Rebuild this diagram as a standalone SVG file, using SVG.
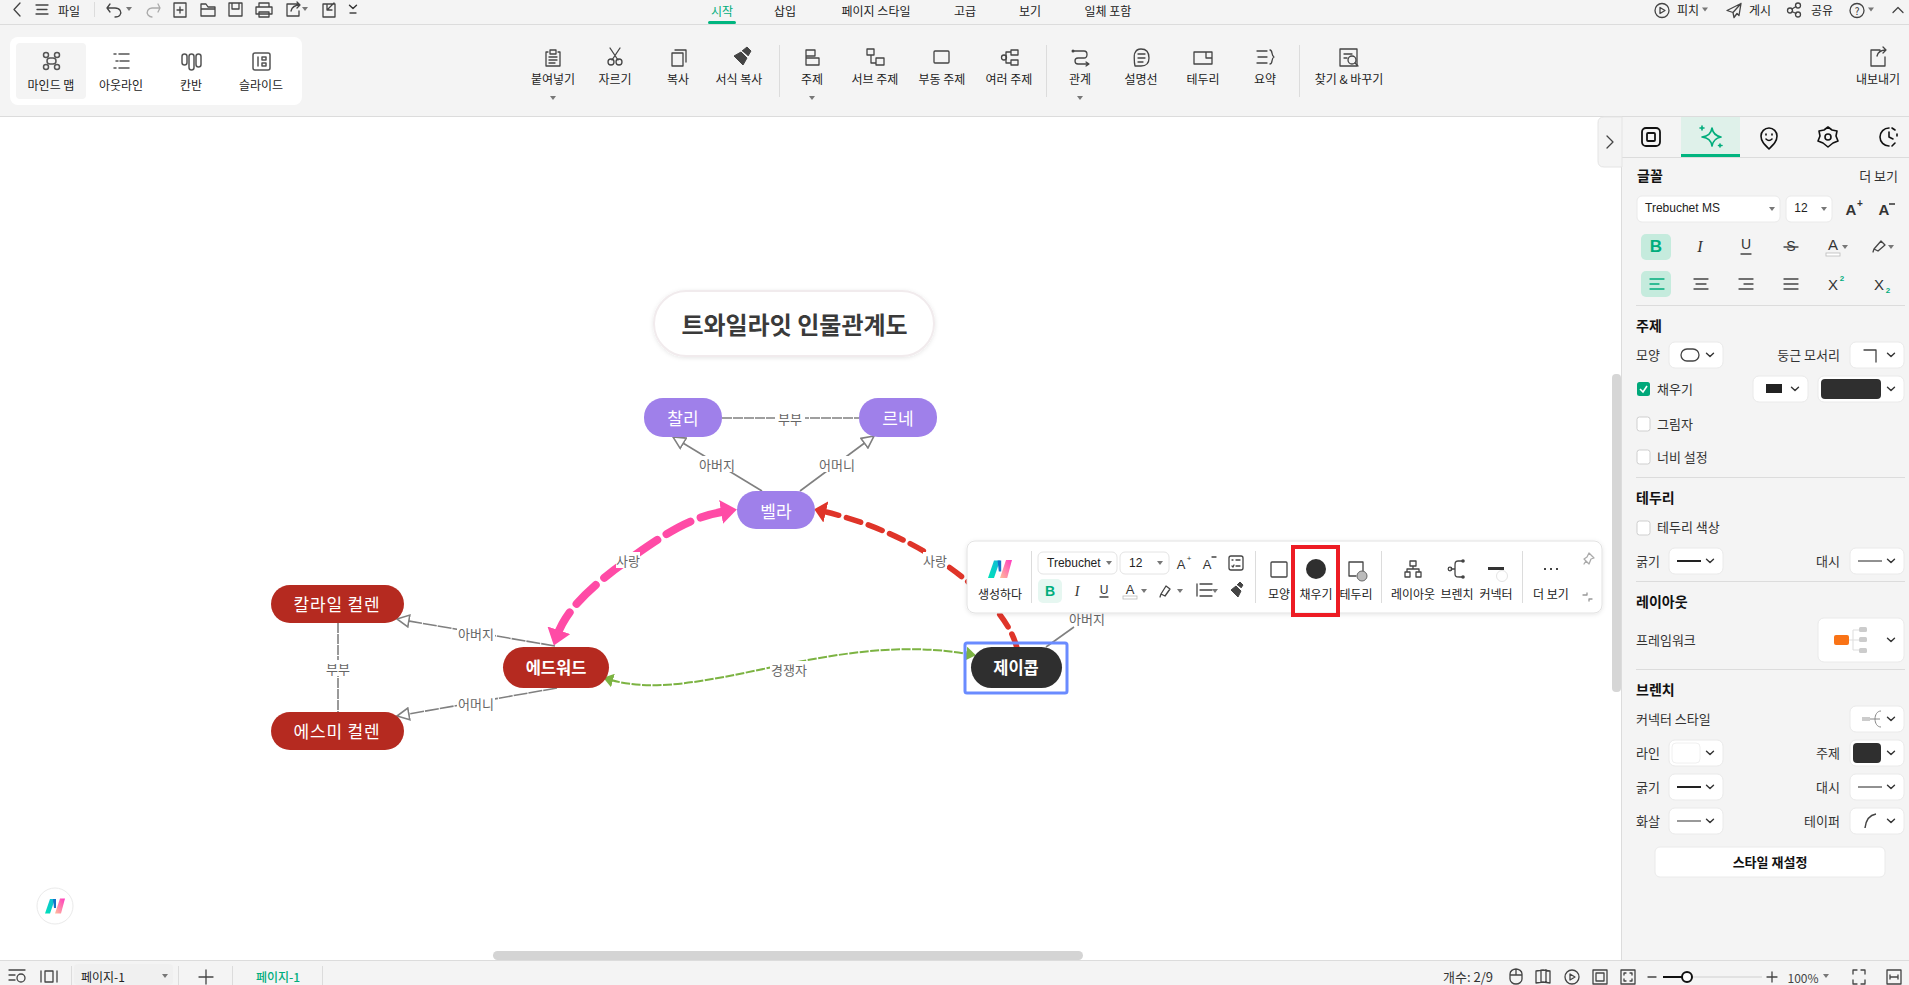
<svg xmlns="http://www.w3.org/2000/svg" width="1909" height="985" viewBox="0 0 1909 985">
<style>
text{font-family:"Noto Sans CJK KR","Liberation Sans",sans-serif;font-size:12px;fill:#333;dominant-baseline:central}
.m{text-anchor:middle}.e{text-anchor:end}
.b{font-weight:700;font-size:14px;fill:#111}
.lat{font-family:"Liberation Sans",sans-serif}
.i{fill:none;stroke:#444;stroke-width:1.3;stroke-linecap:round;stroke-linejoin:round}
.tb{fill:#222;font-size:12px}
.div{stroke:#dcdcdc;stroke-width:1}
.sel{fill:#fff;stroke:#eaeaea;stroke-width:1}
.cb{fill:#fff;stroke:#cfcfcf;stroke-width:1}
.chev{fill:none;stroke:#333;stroke-width:1.4;stroke-linecap:round;stroke-linejoin:round}
.nt{fill:#fff;font-size:17px;text-anchor:middle}
.ns{letter-spacing:.8px}
.nb{font-weight:700;font-size:16.5px}
.lb{fill:#666;font-size:13px;text-anchor:middle}
.g{fill:none;stroke:#808080;stroke-width:1.6}
.pur{fill:#9f80ea}.red{fill:#b52a20}
#sidebar text{transform:translateY(-1px)}
#sidebar text:not(.b):not(.lat){font-size:13px}
</style>
<defs>
<path id="chev" class="chev" d="M-3.5-1.8 0 1.6 3.5-1.8"/>
<path id="tri" fill="#777" d="M-3-2H3L0 2Z"/>
<marker id="hollow" viewBox="0 0 14 14" markerWidth="14" markerHeight="14" refX="13" refY="7" orient="auto" markerUnits="userSpaceOnUse"><path d="M1 1 13 7 1 13Z" fill="#fff" stroke="#808080" stroke-width="1.6"/></marker>
<marker id="pink" viewBox="0 0 16 24" markerWidth="16" markerHeight="24" refX="6" refY="12" orient="auto-start-reverse" markerUnits="userSpaceOnUse"><path d="M0 0 16 12 0 24Z" fill="#ff4ba6"/></marker>
<marker id="redh" viewBox="0 0 12 22" markerWidth="12" markerHeight="22" refX="4" refY="11" orient="auto" markerUnits="userSpaceOnUse"><path d="M0 0 12 11 0 22Z" fill="#df3429"/></marker>
<marker id="green" viewBox="0 0 10 14" markerWidth="10" markerHeight="14" refX="2" refY="7" orient="auto-start-reverse" markerUnits="userSpaceOnUse"><path d="M0 0 10 7 0 14Z" fill="#7cb342"/></marker>
<linearGradient id="gt" x1="0" y1="1" x2="1" y2="0"><stop offset="0" stop-color="#00e2b8"/><stop offset="1" stop-color="#12b8d8"/></linearGradient>
<linearGradient id="gp" x1="0" y1="1" x2="1" y2="0"><stop offset="0" stop-color="#ffc09a"/><stop offset="1" stop-color="#ff38c0"/></linearGradient>
<g id="mlogo"><path d="M-10 7.500-5-7H0L-5 7.500Z" fill="url(#gt)"/><path d="M-2-7H1L1 2-1 2Z" fill="#1470c8"/><path d="M0 7.500 5-7.500H10L6 7.500Z" fill="url(#gp)"/></g>
<filter id="sh" x="-10%" y="-20%" width="120%" height="140%"><feDropShadow dx="0" dy="1" stdDeviation="2" flood-color="#000" flood-opacity=".1"/></filter>
</defs>

<rect width="1909" height="985" fill="#fff"/>

<g id="canvas-connectors">
<path class="g" stroke-dasharray="10 1" d="M722 418H859"/>
<path class="g" marker-end="url(#hollow)" d="M762 491 673 437"/>
<path class="g" marker-end="url(#hollow)" d="M800 491 874 436"/>
<path class="g" stroke-dasharray="10 1" d="M338 623V712"/>
<path class="g" marker-end="url(#hollow)" stroke-dasharray="14 1" d="M555 646 397 619"/>
<path class="g" marker-end="url(#hollow)" stroke-dasharray="14 1" d="M557 688 397 716"/>
<path class="g" d="M1046 647 1074 627"/>
<path fill="none" stroke="#ff4ba6" stroke-width="8" stroke-linecap="round" stroke-dasharray="27 11" marker-start="url(#pink)" marker-end="url(#pink)" d="M557 636C565 612 588 588 628 560S690 517 727 511"/>
<path fill="none" stroke="#df3429" stroke-width="5.500" stroke-linecap="round" stroke-dasharray="15 8" marker-end="url(#redh)" d="M1017 648C1005 600 925 535 822 511"/>
<path fill="none" stroke="#7cb342" stroke-width="2" stroke-dasharray="9 1.500" marker-start="url(#green)" marker-end="url(#green)" d="M611 680C700 705 830 630 968 654"/>
<g id="edge-labels">
<rect x="775" y="410" width="30" height="16" fill="#fff"/><text class="lb" x="790" y="418">부부</text>
<rect x="698" y="456" width="38" height="16" fill="#fff"/><text class="lb" x="717" y="464">아버지</text>
<rect x="818" y="456" width="38" height="16" fill="#fff"/><text class="lb" x="837" y="464">어머니</text>
<rect x="323" y="660" width="30" height="16" fill="#fff"/><text class="lb" x="338" y="668">부부</text>
<rect x="457" y="625" width="38" height="16" fill="#fff"/><text class="lb" x="476" y="633">아버지</text>
<rect x="457" y="695" width="38" height="16" fill="#fff"/><text class="lb" x="476" y="703">어머니</text>
<rect x="616" y="552" width="24" height="16" fill="#fff"/><text class="lb" x="628" y="560">사랑</text>
<rect x="923" y="552" width="24" height="16" fill="#fff"/><text class="lb" x="935" y="560">사랑</text>
<rect x="770" y="661" width="38" height="16" fill="#fff"/><text class="lb" x="789" y="669">경쟁자</text>
<rect x="1068" y="610" width="38" height="16" fill="#fff"/><text class="lb" x="1087" y="618">아버지</text>
</g>
</g>

<g id="node-title"><rect x="654" y="291" width="280" height="65" rx="32.500" fill="#fff" stroke="#f1ebed" stroke-width="2" filter="url(#sh)"/><text class="m" x="794.500" y="323" style="font-size:24px;font-weight:700;fill:#3a3a3a">트와일라잇 인물관계도</text></g>
<g id="node-charlie"><rect class="pur" x="644" y="398" width="78" height="39" rx="19"/><text class="nt" x="683" y="417">찰리</text></g>
<g id="node-renee"><rect class="pur" x="859" y="398" width="78" height="39" rx="19"/><text class="nt" x="898" y="417">르네</text></g>
<g id="node-bella"><rect class="pur" x="737" y="491" width="78" height="38" rx="19"/><text class="nt" x="776" y="510">벨라</text></g>
<g id="node-carlisle"><rect class="red" x="271" y="585" width="133" height="38" rx="19"/><text class="nt ns" x="337" y="603">칼라일 컬렌</text></g>
<g id="node-esme"><rect class="red" x="271" y="712" width="133" height="38" rx="19"/><text class="nt ns" x="337" y="730">에스미 컬렌</text></g>
<g id="node-edward"><rect class="red" x="503" y="647" width="106" height="41" rx="20.500"/><text class="nt nb" x="556" y="667">에드워드</text></g>
<g id="node-jacob"><rect x="971" y="647" width="91" height="41" rx="20.500" fill="#2f2f2f"/><text class="nt nb" x="1016" y="667">제이콥</text></g>
<rect id="selection" x="965" y="643" width="102" height="50" rx="2" fill="none" stroke="#6a8bff" stroke-width="3"/>

<g id="ribbon">
<rect x="0" y="0" width="1909" height="117" fill="#f4f4f4"/>
<path class="div" d="M0 24.500H1909M0 116.500H1909"/>
<g transform="translate(0 -2)">
<path class="i" d="M20 5 14 11.500 20 18M36 7H48M37 11.500H47M36 16H48"/>
<path class="div" d="M94.500 4V19"/>
<path class="i" d="M110 6 107 10H115C120 10 122 14 120 17 119 19 116 19 115 19M110 14 107 10"/><use href="#tri" x="129" y="11"/>
<path class="i" style="stroke:#aaa" d="M158 6 160 10H152C148 10 146 14 148 17 149 18 150 19 152 19M158 14 160 10"/>
<path class="i" d="M174 5H186V19H174ZM177 12H183M180 9V15"/>
<path class="i" d="M201 8V18H215V9H208L206 6H201ZM201 11H215"/>
<path class="i" d="M229 5H242V18H229ZM232 5V11H239V5"/>
<path class="i" d="M259 9V5H269V9M256 9H272V16H256ZM259 14H269V19H259Z"/>
<path class="i" d="M298 6H287V18H299V13M291 13C292 9 295 7 300 7M297 4 300 7 297 10"/><use href="#tri" x="305" y="11"/>
<path class="i" d="M323 6H335V19H323ZM334 5 328 11M327 7V12H332"/><use href="#chev" x="353" y="9"/><path class="i" d="M350 15H356"/>
</g>
<text class="tb m" x="69" y="10">파일</text>
<text class="m" x="722" y="10" style="fill:#00ad7c">시작</text><rect x="708" y="21" width="28" height="3" rx="1.500" fill="#00b57f"/>
<text class="tb m" x="785" y="10">삽입</text><text class="tb m" x="876" y="10">페이지 스타일</text><text class="tb m" x="965" y="10">고급</text><text class="tb m" x="1030" y="10">보기</text><text class="tb m" x="1108" y="10">일체 포함</text>

<g id="modes"><rect x="10" y="37" width="292" height="68" rx="8" fill="#fff"/><rect x="16" y="43" width="70" height="56" rx="4" fill="#f4f4f4"/>
<g class="i" style="stroke:#555;stroke-width:1.500"><circle cx="46" cy="55" r="2.500"/><circle cx="57" cy="55" r="2.500"/><circle cx="46" cy="67" r="2.500"/><circle cx="57" cy="67" r="2.500"/><rect x="47" y="58" width="9" height="6" rx="3"/></g>
<path class="i" style="stroke:#555;stroke-width:1.500" d="M114 54H116M119 54H129M116 61H118M120 61H129M114 68H116M119 68H129"/>
<g class="i" style="stroke:#555;stroke-width:1.500"><rect x="182" y="54" width="5" height="11" rx="2.500"/><rect x="189" y="54" width="5" height="16" rx="2.500"/><rect x="196" y="54" width="5" height="13" rx="2.500"/></g>
<g class="i" style="stroke:#555;stroke-width:1.500"><rect x="253" y="53" width="17" height="17" rx="2"/><path d="M258 57V66M262 57H266V60H262ZM262 63H266V66H262Z"/></g>
<text class="m tb" x="51" y="84">마인드 맵</text><text class="m tb" x="121" y="84">아웃라인</text><text class="m tb" x="191" y="84">칸반</text><text class="m tb" x="261" y="84">슬라이드</text></g>

<g id="ribbon-icons">
<path class="i" transform="translate(4 0)" d="M544 52H542V66H556V52H554M546 50H552V54H546ZM545 57H553M545 60H553M545 63H551"/>
<g transform="translate(10 0)"><path class="i" d="M600 48 608 60M610 48 602 60"/><circle class="i" cx="601" cy="62" r="3"/><circle class="i" cx="609" cy="62" r="3"/></g>
<path class="i" transform="translate(16 0)" d="M656 53H667V66H656ZM659 50H670V62"/>
<path d="M734 56 743 65 747 58 741 52ZM742 51 747 47 751 51 748 56" fill="#444" stroke="#444"/>
<path class="i" transform="translate(26 0)" d="M780 50H789V56H780ZM780 56V65H793V58H780"/>
<path class="i" transform="translate(30 0)" d="M837 49H844V55H837ZM841 55V63H846M846 58H854V65H846Z"/>
<rect class="i" x="934" y="51" width="15" height="12" rx="1"/>
<g transform="translate(44 0)"><path class="i" d="M967 50H974V55H967ZM967 60H974V65H967ZM967 52H962V63H967"/><circle class="i" cx="960" cy="57.500" r="2.500"/></g>
<g transform="translate(50 0)"><path class="i" d="M1024 51H1034C1038 51 1038 58 1034 58H1028C1024 58 1024 64 1028 64H1038M1036 62 1039 64 1036 66"/><circle cx="1023" cy="51" r="1.500" fill="#444"/></g>
<path class="i" transform="translate(54 0)" d="M1087 49C1094 49 1095 54 1095 58 1095 63 1092 66 1087 66H1081C1080 62 1080 53 1081 53 1082 50 1084 49 1087 49ZM1084 54H1091M1084 58H1091M1084 62H1089"/>
<path class="i" d="M1194 52H1212V64H1194ZM1206 52V58H1212"/>
<path class="i" d="M1257 51H1267M1258 57H1267M1257 63H1267M1270 50C1273 50 1271 56 1274 57 1271 58 1273 64 1270 64"/>
<path class="i" d="M1340 49H1357V66H1340ZM1344 54H1352M1344 58H1347"/><circle class="i" cx="1352" cy="60" r="4"/><path class="i" d="M1355 63 1358 66"/>
<path class="i" d="M1880 50H1871V66H1885V57M1877 56C1878 52 1881 50 1886 50M1883 47 1886 50 1883 53"/>
</g>
<path class="div" d="M779.500 45V97M1046.500 45V97M1299.500 45V97"/>
<g id="ribbon-labels"><text class="m tb" x="553" y="78">붙여넣기</text><text class="m tb" x="615" y="78">자르기</text><text class="m tb" x="678" y="78">복사</text><text class="m tb" x="739" y="78">서식 복사</text><text class="m tb" x="812" y="78">주제</text><text class="m tb" x="875" y="78">서브 주제</text><text class="m tb" x="942" y="78">부동 주제</text><text class="m tb" x="1009" y="78">여러 주제</text><text class="m tb" x="1080" y="78">관계</text><text class="m tb" x="1141" y="78">설명선</text><text class="m tb" x="1203" y="78">테두리</text><text class="m tb" x="1265" y="78">요약</text><text class="m tb" x="1349" y="78">찾기 &amp; 바꾸기</text><text class="m tb" x="1878" y="78">내보내기</text></g>
<use href="#tri" x="553" y="98"/><use href="#tri" x="812" y="98"/><use href="#tri" x="1080" y="98"/>

<g id="topright" transform="translate(0 -1.500)">
<circle class="i" cx="1662" cy="12" r="7"/><path class="i" d="M1660 9 1665 12 1660 15Z"/><text class="tb m" x="1688" y="11">피치</text><use href="#tri" x="1705" y="11"/>
<path class="i" d="M1741 5 1727 12 1733 14 1734 19 1737 15 1739 17ZM1741 5 1733 14"/><text class="tb m" x="1760" y="11">게시</text>
<circle class="i" cx="1790" cy="12" r="2.500"/><circle class="i" cx="1798" cy="7" r="2.500"/><circle class="i" cx="1798" cy="16" r="2.500"/><path class="i" d="M1792 10.500 1796 8M1792 13 1796 15"/><text class="tb m" x="1822" y="11">공유</text>
<circle class="i" cx="1857" cy="12" r="7"/><text class="m" x="1857" y="12" style="font-size:10px">?</text><use href="#tri" x="1871" y="11"/>
<path class="i" d="M1893 14 1898 9 1903 14"/>
</g>
</g>

<g id="sidebar">
<rect x="1622" y="117" width="287" height="843" fill="#f4f4f4"/>
<path class="div" d="M1621.500 117V960M1622 157.500H1909"/>
<path d="M1622 117H1604Q1598 117 1598 123V161Q1598 167 1604 167H1622Z" fill="#f4f4f4" stroke="#e4e4e4"/>
<path class="i" d="M1607 136 1613 142 1607 148"/>
<rect x="1612" y="374" width="9" height="318" rx="4" fill="#d6d6d6"/>
<rect x="1681" y="117" width="59" height="38" fill="#dff1ea"/><rect x="1681" y="154" width="59" height="3" fill="#00b57f"/>
<rect class="i" x="1642" y="128" width="18" height="18" rx="4" style="stroke:#111;stroke-width:1.800"/><rect class="i" x="1647" y="133" width="8" height="8" rx="1" style="stroke:#111;stroke-width:1.800"/>
<path class="i" style="stroke:#00ad7c;stroke-width:1.600" d="M1712 128C1713 134 1716 136 1721 137 1716 138 1713 140 1712 146 1711 140 1708 138 1702 137 1708 136 1711 134 1712 128ZM1702 126V130M1700 128H1704M1720 144V147M1718.500 145.500H1722"/>
<path class="i" style="stroke:#111;stroke-width:1.600" d="M1769 149C1764 144 1761 141 1761 136A8 8 0 0 1 1777 136C1777 141 1774 144 1769 149ZM1766 134V135M1772 134V135M1766 139C1768 141 1770 141 1772 139"/>
<path class="i" style="stroke:#111;stroke-width:1.600" d="M1828 127 1832 130 1837 131 1836 136 1838 141 1833 143 1828 147 1823 143 1818 141 1820 136 1819 131 1824 130Z"/><circle class="i" cx="1828" cy="137" r="3" style="stroke:#111;stroke-width:1.600"/>
<path class="i" style="stroke:#111;stroke-width:1.600" d="M1889 128A9 9 0 0 0 1889 146M1892 128 1895 130M1897 134V136M1895 143 1892 146M1889 132V137L1893 139"/>

<text class="b" x="1637" y="176">글꼴</text><text class="e" x="1898" y="176">더 보기</text>
<rect class="sel" x="1637" y="196" width="143" height="26" rx="5"/><text class="lat tb" x="1645" y="209">Trebuchet MS</text><use href="#tri" x="1772" y="209"/>
<rect class="sel" x="1786" y="196" width="46" height="26" rx="5"/><text class="lat tb" x="1801" y="209" style="text-anchor:middle">12</text><use href="#tri" x="1824" y="209"/>
<text class="lat m" x="1851" y="210" style="font-size:15px;font-weight:700;fill:#333">A</text><text class="lat m" x="1860" y="204" style="font-size:10px;font-weight:700;fill:#333">+</text>
<text class="lat m" x="1884" y="210" style="font-size:15px;font-weight:700;fill:#333">A</text><path d="M1889 204H1895" stroke="#333" stroke-width="1.500"/>

<rect x="1641" y="234" width="30" height="26" rx="5" fill="#c5ebdd"/><text class="lat m" x="1656" y="247" style="font-size:17px;font-weight:700;fill:#00ad7c">B</text>
<text class="lat m" x="1700" y="247" style="font-size:16px;font-style:italic;fill:#333;font-family:'Liberation Serif',serif">I</text>
<text class="lat m" x="1746" y="245" style="font-size:14px;fill:#333">U</text><path class="i" d="M1741 254H1751"/>
<text class="lat m" x="1791" y="247" style="font-size:14px;fill:#333">S</text><path class="i" d="M1784 247H1798"/>
<text class="lat m" x="1833" y="245" style="font-size:15px;fill:#333">A</text><rect x="1826" y="253" width="14" height="3" fill="#fff" stroke="#bbb" stroke-width=".8"/><use href="#tri" x="1845" y="247"/>
<path class="i" d="M1874 249 1881 241 1885 245 1878 251ZM1874 249 1873 252"/><use href="#tri" x="1891" y="247"/>

<rect x="1641" y="271" width="30" height="26" rx="5" fill="#c5ebdd"/><path class="i" style="stroke:#00ad7c" d="M1650 279H1664M1650 284H1659M1650 289H1664"/>
<path class="i" d="M1694 279H1708M1696 284H1706M1694 289H1708M1739 279H1753M1744 284H1753M1739 289H1753M1784 279H1798M1784 284H1798M1784 289H1798"/>
<text class="lat m" x="1833" y="285" style="font-size:15px;fill:#333">X</text><text class="lat m" x="1842" y="279" style="font-size:8px;font-weight:700;fill:#00ad7c">2</text>
<text class="lat m" x="1879" y="285" style="font-size:15px;fill:#333">X</text><text class="lat m" x="1888" y="291" style="font-size:8px;font-weight:700;fill:#00ad7c">2</text>
<path class="div" d="M1636 305.500H1905M1636 477.500H1905M1636 581.500H1905M1636 669.500H1905"/>

<text class="b" x="1636" y="326">주제</text>
<text x="1636" y="355">모양</text><rect class="sel" x="1669" y="342" width="54" height="26" rx="6"/><rect class="i" x="1681" y="349" width="18" height="12" rx="6"/><use href="#chev" x="1710" y="355"/>
<text class="e" x="1840" y="355">둥근 모서리</text><rect class="sel" x="1850" y="342" width="54" height="26" rx="6"/><path class="i" d="M1864 350H1876V362"/><use href="#chev" x="1891" y="355"/>
<rect x="1637" y="382" width="13" height="14" rx="2.500" fill="#00a87a"/><path d="M1640 389 1643 392 1647 386" fill="none" stroke="#fff" stroke-width="1.600"/><text x="1657" y="389">채우기</text>
<rect class="sel" x="1753" y="376" width="55" height="26" rx="6"/><rect x="1766" y="384" width="16" height="9" fill="#222"/><use href="#chev" x="1795" y="389"/>
<rect class="sel" x="1818" y="376" width="86" height="26" rx="6"/><rect x="1821" y="379" width="60" height="20" rx="4" fill="#2f2f2f"/><use href="#chev" x="1891" y="389"/>
<rect class="cb" x="1637" y="417" width="13" height="14" rx="2.500"/><text x="1657" y="424">그림자</text>
<rect class="cb" x="1637" y="450" width="13" height="14" rx="2.500"/><text x="1657" y="457">너비 설정</text>

<text class="b" x="1636" y="498">테두리</text>
<rect class="cb" x="1637" y="521" width="13" height="14" rx="2.500"/><text x="1657" y="527">테두리 색상</text>
<text x="1636" y="561">굵기</text><rect class="sel" x="1669" y="548" width="54" height="26" rx="6"/><path d="M1677 561H1701" stroke="#222" stroke-width="2"/><use href="#chev" x="1710" y="561"/>
<text class="e" x="1840" y="561">대시</text><rect class="sel" x="1850" y="548" width="54" height="26" rx="6"/><path d="M1858 561H1882" stroke="#222"/><use href="#chev" x="1891" y="561"/>

<text class="b" x="1636" y="602">레이아웃</text>
<text x="1636" y="640">프레임워크</text><rect class="sel" x="1818" y="618" width="86" height="44" rx="6"/>
<rect x="1834" y="635" width="15" height="10" rx="2" fill="#f97316"/><path d="M1849 640H1860M1853 630V650H1860M1853 630H1860" fill="none" stroke="#ddd"/><rect x="1859" y="627" width="8" height="5" rx="1.500" fill="#ccc"/><rect x="1859" y="637" width="8" height="5" rx="1.500" fill="#ccc"/><rect x="1859" y="648" width="8" height="5" rx="1.500" fill="#ccc"/><use href="#chev" x="1891" y="640"/>

<text class="b" x="1636" y="690">브렌치</text>
<text x="1636" y="719">커넥터 스타일</text><rect class="sel" x="1850" y="706" width="54" height="26" rx="6"/><rect x="1862" y="717" width="8" height="4" fill="#ccc"/><path d="M1870 719H1880M1881 711C1873 711 1873 727 1881 727" fill="none" stroke="#888"/><use href="#chev" x="1891" y="719"/>
<text x="1636" y="753">라인</text><rect class="sel" x="1669" y="740" width="54" height="26" rx="6"/><rect x="1672" y="743" width="28" height="20" rx="4" fill="#fff" stroke="#f0f0f0"/><use href="#chev" x="1710" y="753"/>
<text class="e" x="1840" y="753">주제</text><rect class="sel" x="1850" y="740" width="54" height="26" rx="6"/><rect x="1853" y="743" width="28" height="20" rx="4" fill="#2f2f2f"/><use href="#chev" x="1891" y="753"/>
<text x="1636" y="787">굵기</text><rect class="sel" x="1669" y="774" width="54" height="26" rx="6"/><path d="M1677 787H1701" stroke="#222" stroke-width="2"/><use href="#chev" x="1710" y="787"/>
<text class="e" x="1840" y="787">대시</text><rect class="sel" x="1850" y="774" width="54" height="26" rx="6"/><path d="M1858 787H1882" stroke="#222"/><use href="#chev" x="1891" y="787"/>
<text x="1636" y="821">화살</text><rect class="sel" x="1669" y="808" width="54" height="26" rx="6"/><path d="M1677 821H1701" stroke="#999" stroke-width="2"/><use href="#chev" x="1710" y="821"/>
<text class="e" x="1840" y="821">테이퍼</text><rect class="sel" x="1850" y="808" width="54" height="26" rx="6"/><path d="M1865 828C1866 819 1870 815 1876 814" fill="none" stroke="#444" stroke-width="1.500"/><use href="#chev" x="1891" y="821"/>
<rect class="sel" x="1655" y="847" width="230" height="30" rx="5"/><text class="m" x="1770" y="862" style="font-weight:700;fill:#111">스타일 재설정</text>
</g>

<g id="logo-float"><circle cx="55" cy="906" r="18" fill="#fff" stroke="#eaeaea"/><use href="#mlogo" transform="translate(55 906)"/></g>

<g id="statusbar">
<rect x="493" y="951" width="590" height="9" rx="4.500" fill="#d4d4d4"/>
<rect x="0" y="960" width="1909" height="25" fill="#f4f4f4"/>
<path class="div" d="M0 960.500H1909M71.500 966V985M178.500 966V985M232.500 966V985M322.500 966V985"/>
<path class="i" d="M9 970H25M9 975H15M9 980H15"/><circle class="i" cx="21" cy="978" r="4"/>
<path class="i" d="M41 971V982M45 971H53V982H45ZM57 971V982"/>
<rect x="74" y="964" width="99" height="21" rx="4" fill="#f0f0f0"/><text class="tb" x="81" y="976">페이지-1</text><use href="#tri" x="165" y="976"/>
<path class="i" d="M199 977H213M206 970V984"/>
<text class="m" x="278" y="976" style="fill:#00ad7c;font-weight:500">페이지-1</text>
<text class="e" x="1493" y="976" style="fill:#333;font-size:13px">개수: 2/9</text>
<path class="i" d="M1510 974C1510 971 1513 969 1516 969 1519 969 1522 971 1522 974V979C1522 982 1519 984 1516 984 1513 984 1510 982 1510 979ZM1510 975H1522M1516 969V975"/>
<path class="i" d="M1536 971 1543 970 1550 971V983L1543 982 1536 983ZM1541 970V982M1546 970V982"/>
<circle class="i" cx="1572" cy="977" r="7"/><path class="i" d="M1570 974 1575 977 1570 980Z"/>
<rect class="i" x="1593" y="970" width="14" height="14"/><rect class="i" x="1596" y="973" width="8" height="8"/>
<rect class="i" x="1621" y="970" width="14" height="14"/><path class="i" d="M1624 975V973H1626M1632 975V973H1630M1624 979V981H1626M1632 979V981H1630"/>
<path class="i" d="M1648 977H1656"/>
<path d="M1663 977H1762" stroke="#ddd" stroke-width="1.500"/><path d="M1663 977H1687" stroke="#111" stroke-width="2"/><circle cx="1687" cy="977" r="5" fill="#fff" stroke="#111" stroke-width="2"/>
<path class="i" d="M1767 977H1777M1772 972V982"/>
<text class="m" x="1803" y="977" style="fill:#444">100%</text><use href="#tri" x="1826" y="976"/>
<path class="i" d="M1853 974V970H1857M1861 970H1865V974M1853 980V984H1857M1865 980V984H1861"/>
<rect class="i" x="1887" y="970" width="14" height="14"/><path class="i" d="M1890 977H1898M1890 975V979M1898 975V979"/>
</g>

<g id="float-toolbar">
<rect x="967" y="541" width="635" height="72" rx="8" fill="#fff" stroke="#e2e2e2" filter="url(#sh)"/>
<use href="#mlogo" transform="translate(1000 569) scale(1.200)"/>
<text class="tb m" x="1000" y="593">생성하다</text>
<path class="div" d="M1031.500 551V603M1255.500 551V603M1381.500 551V603M1522.500 551V603"/>
<rect class="sel" x="1038" y="552" width="79" height="22" rx="5" style="stroke:#e4e4e4"/><text class="lat tb" x="1047" y="563">Trebuchet</text><use href="#tri" x="1109" y="563"/>
<rect class="sel" x="1120" y="552" width="49" height="22" rx="5" style="stroke:#e4e4e4"/><text class="lat tb" x="1129" y="563">12</text><use href="#tri" x="1160" y="563"/>
<text class="lat m" x="1181" y="564" style="font-size:13px;fill:#333">A</text><text class="lat m" x="1189" y="558" style="font-size:8px;fill:#333">+</text>
<text class="lat m" x="1207" y="564" style="font-size:13px;fill:#333">A</text><path class="i" d="M1212 557H1216"/>
<rect class="i" x="1229" y="556" width="14" height="14" rx="2"/><path class="i" d="M1232 560H1233M1236 560H1240M1232 566 1233 567 1234 565M1236 566H1240"/>
<rect x="1038" y="579" width="24" height="24" rx="5" fill="#e6f7f1"/><text class="lat m" x="1050" y="591" style="font-size:14px;font-weight:700;fill:#00ad7c">B</text>
<text class="m" x="1077" y="591" style="font-family:'Liberation Serif',serif;font-style:italic;font-size:14px">I</text>
<text class="lat m" x="1104" y="590" style="font-size:12px">U</text><path class="i" d="M1100 597H1108"/>
<text class="lat m" x="1130" y="589" style="font-size:13px">A</text><rect x="1123" y="596" width="14" height="3" fill="#fff" stroke="#bbb" stroke-width=".8"/><use href="#tri" x="1144" y="591"/>
<path class="i" d="M1161 594 1166 586 1170 589 1165 596ZM1161 594 1160 597"/><use href="#tri" x="1180" y="591"/>
<path class="i" d="M1200 584H1212M1200 590H1212M1200 596H1212M1197 584V596"/><use href="#tri" x="1215" y="591"/>
<path d="M1231 590 1238 597 1241 591 1236 586ZM1237 585 1240 582 1243 585 1241 588" fill="#444" stroke="#444"/>
<rect class="i" x="1271" y="562" width="16" height="15" rx="1"/><text class="tb m" x="1279" y="593">모양</text>
<circle cx="1316" cy="569" r="10" fill="#2f2f2f"/><text class="tb m" x="1316" y="593">채우기</text>
<rect x="1293" y="547" width="45" height="68" fill="none" stroke="#ed1c24" stroke-width="4"/>
<path class="i" d="M1349 562H1363V574M1349 562V576H1356"/><circle cx="1362" cy="576" r="5" fill="#bbb" stroke="#666"/><text class="tb m" x="1356" y="593">테두리</text>
<path class="i" d="M1410 561H1416V566H1410ZM1405 572H1410V577H1405ZM1416 572H1421V577H1416ZM1413 566V569M1407 572V569H1419V572"/><text class="tb m" x="1413" y="593">레이아웃</text>
<path class="i" d="M1462 561H1458C1455 561 1455 563 1455 566V574C1455 577 1456 577 1462 577M1455 569H1451"/><circle cx="1463" cy="561" r="1.800" fill="#444"/><circle cx="1463" cy="577" r="1.800" fill="#444"/><circle class="i" cx="1450" cy="569" r="1.800"/><text class="tb m" x="1457" y="593">브렌치</text>
<rect x="1488" y="567" width="16" height="3" fill="#333"/><circle cx="1502" cy="576" r="5.500" fill="#fff" stroke="#e4e4e4"/><text class="tb m" x="1496" y="593">커넥터</text>
<path d="M1544 569H1546M1550 569H1552M1556 569H1558" stroke="#444" stroke-width="2"/><text class="tb m" x="1551" y="593">더 보기</text>
<path class="i" style="stroke:#aaa" d="M1589 553 1594 558 1591 559 1589 564 1584 559 1587 557ZM1584 564 1586 561"/>
<path class="i" style="stroke:#999" d="M1583 595H1587V593M1589 599H1592M1589 599V601"/>
</g>
</svg>
